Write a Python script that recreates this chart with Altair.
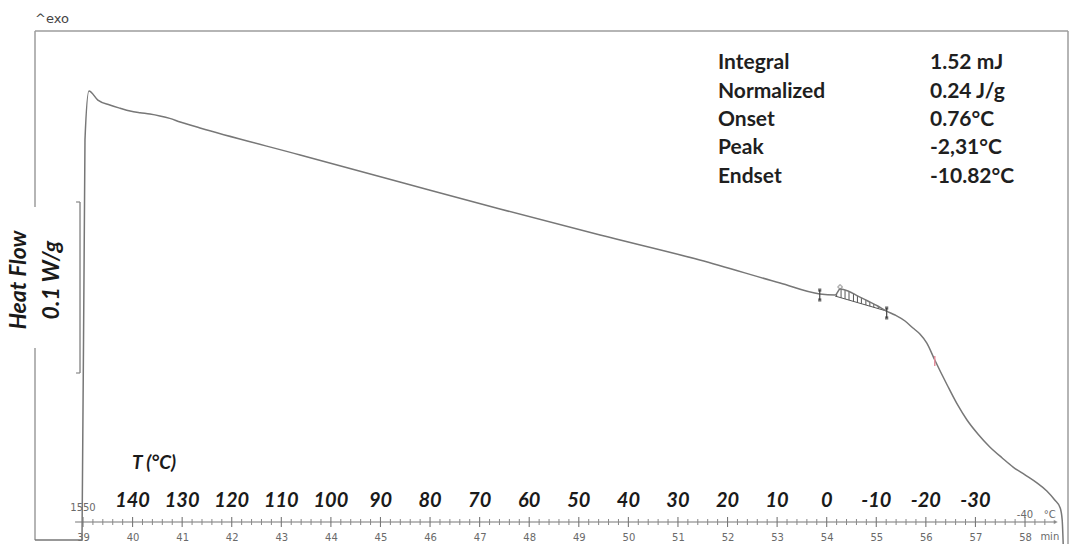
import altair as alt
import numpy as np
import pandas as pd

# ---- DSC heat-flow curve (time in min, heat flow in W/g, relative) ----
curve_time = [38.03, 38.98, 39.04, 39.12, 39.30, 39.54, 39.75, 39.95, 40.15, 40.35, 40.55,
              40.75, 40.96, 41.16, 41.36, 43.38, 45.39, 47.41, 49.43, 51.44, 53.06, 53.86,
              54.17, 54.27, 54.43, 54.63, 54.83, 55.03, 55.20, 55.38, 55.58, 55.74, 55.88,
              56.02, 56.18, 56.43, 56.63, 56.83, 57.05, 57.29, 57.54, 57.76, 58.00, 58.24,
              58.44, 58.60, 58.71, 58.75, 58.77]
curve_flow = [0.0023, 0.0023, 0.2363, 0.2649, 0.2596, 0.2567, 0.2548, 0.2532, 0.2522, 0.2514,
              0.2503, 0.2489, 0.2468, 0.2450, 0.2433, 0.2275, 0.2117, 0.1959, 0.1807, 0.1661,
              0.1526, 0.1462, 0.1456, 0.1491, 0.1480, 0.1450, 0.1421, 0.1392, 0.1363, 0.1339,
              0.1304, 0.1263, 0.1228, 0.1175, 0.1076, 0.0930, 0.0819, 0.0725, 0.0643, 0.0567,
              0.0503, 0.0450, 0.0404, 0.0357, 0.0310, 0.0257, 0.0211, 0.0140, 0.0]

# integration baseline and hatching of the small exothermic peak
base_time = [54.17, 55.20]
base_flow = [0.1450, 0.1363]
hatch_time = [54.20, 54.29, 54.37, 54.45, 54.54, 54.62, 54.70, 54.79, 54.87, 54.95, 55.04, 55.12]
limit_time = [53.86, 55.21]
limit_top = [0.1485, 0.1380]
limit_bottom = [0.1427, 0.1322]
peak_time = [54.27]
peak_flow = [0.1503]
marker_time = [56.18]
marker_top = [0.1099]
marker_bottom = [0.1041]

# scale bar (0.1 W/g)
bar_time = [38.94]
bar_low = [0.10]
bar_high = [0.20]
bar_cap_start = [38.86]

# axis ticks and labels
minutes = list(range(39, 59))
minor_ticks = [round(m + f, 1) for m in range(39, 59) for f in (0.2, 0.4, 0.6, 0.8) if m + f < 58.5]
temps = [140, 130, 120, 110, 100, 90, 80, 70, 60, 50, 40, 30, 20, 10, 0, -10, -20, -30]

table_names = ["Integral", "Normalized", "Onset", "Peak", "Endset"]
table_values = ["1.52 mJ", "0.24 J/g", "0.76°C", "-2,31°C", "-10.82°C"]

# ---- scales ----
W, H = 1033, 513
XS = alt.Scale(domain=[38.032, 58.867], nice=False, zero=False)
YS = alt.Scale(domain=[0, 0.3], nice=False, zero=False)
x_axis = alt.Axis(values=minutes, format="d", domain=False, ticks=False, grid=False,
                  labelFontSize=10, labelColor="#6a6a6a", labelFont="DejaVu Sans",
                  offset=-22, labelPadding=10, title=None)


def xq(field):
    return alt.X(field, type="quantitative", scale=XS, axis=x_axis)


def yq(field):
    return alt.Y(field, type="quantitative", scale=YS, axis=None)


curve_df = pd.DataFrame({"t": curve_time, "v": curve_flow})
base_df = pd.DataFrame({"t": base_time, "v": base_flow})
h = np.array(hatch_time)
hatch_df = pd.DataFrame({"t": h,
                         "top": np.interp(h, curve_time, curve_flow),
                         "bot": np.interp(h, base_time, base_flow)})
limit_df = pd.DataFrame({"t": limit_time, "top": limit_top, "bot": limit_bottom})
peak_df = pd.DataFrame({"t": peak_time, "v": peak_flow})
marker_df = pd.DataFrame({"t": marker_time, "top": marker_top, "bot": marker_bottom})
bar_df = pd.DataFrame({"t": bar_time, "lo": bar_low, "hi": bar_high, "t0": bar_cap_start})
one = pd.DataFrame({"k": [0]})

grey = "#777777"
frame_col = "#9c9c9c"

# frame
frame_top = alt.Chart(one).mark_rule(color=frame_col, strokeWidth=1.5).encode(
    x=alt.value(0), x2=alt.value(W), y=alt.value(0))
frame_left = alt.Chart(one).mark_rule(color=frame_col, strokeWidth=1.5).encode(
    x=alt.value(0), y=alt.value(0), y2=alt.value(509))
frame_right = alt.Chart(one).mark_rule(color=frame_col, strokeWidth=1.5).encode(
    x=alt.value(W), y=alt.value(0), y2=alt.value(H))

# label box on the left
label_box = alt.Chart(one).mark_rect(color="white").encode(
    x=alt.value(-33), x2=alt.value(31), y=alt.value(176), y2=alt.value(317))
hf_text = alt.Chart(pd.DataFrame({"s": ["Heat Flow", "0.1 W/g"], "px": [-16, 17]})).mark_text(
    font="Lato", fontSize=23, fontWeight="bold", fontStyle="italic", angle=270,
    color="#1a1a1a", baseline="middle", align="center").encode(
    x=alt.X("px:Q", scale=None), y=alt.value(249), text="s:N")

exo = alt.Chart(one).mark_text(text="^exo", font="DejaVu Sans", fontSize=13, fontWeight=500,
                               color="#444", align="left", baseline="middle").encode(
    x=alt.value(0), y=alt.value(-12))

# curve
curve = alt.Chart(curve_df).mark_line(color=grey, strokeWidth=1.5, interpolate="monotone").encode(
    x=xq("t"), y=yq("v"), order="t:Q")
baseline = alt.Chart(base_df).mark_line(color="#555", strokeWidth=1).encode(x=xq("t"), y=yq("v"))
hatch = alt.Chart(hatch_df).mark_rule(color="#555", strokeWidth=1).encode(
    x=xq("t"), y=yq("top"), y2="bot:Q")
limits = alt.Chart(limit_df).mark_rule(color="#444", strokeWidth=1.2).encode(
    x=xq("t"), y=yq("top"), y2="bot:Q")
limit_dots_top = alt.Chart(limit_df).mark_point(shape="square", filled=True, size=10, color="#333").encode(
    x=xq("t"), y=yq("top"))
limit_dots_bot = alt.Chart(limit_df).mark_point(shape="square", filled=True, size=10, color="#333").encode(
    x=xq("t"), y=yq("bot"))
peak_mark = alt.Chart(peak_df).mark_point(shape="cross", size=18, color="#777", strokeWidth=1).encode(
    x=xq("t"), y=yq("v"))
pink = alt.Chart(marker_df).mark_rule(color="#e58a9a", strokeWidth=1.4).encode(
    x=xq("t"), y=yq("top"), y2="bot:Q")

# scale bar
bar = alt.Chart(bar_df).mark_rule(color="#888", strokeWidth=1.4).encode(
    x=xq("t"), y=yq("lo"), y2="hi:Q")
bar_cap_lo = alt.Chart(bar_df).mark_rule(color="#888", strokeWidth=1.2).encode(
    x=xq("t0"), x2="t:Q", y=yq("lo"))
bar_cap_hi = alt.Chart(bar_df).mark_rule(color="#888", strokeWidth=1.2).encode(
    x=xq("t0"), x2="t:Q", y=yq("hi"))

# bottom time / temperature axis
axis_df = pd.DataFrame({"a": [38.84], "b": [58.62]})
axis_line = alt.Chart(axis_df).mark_rule(color="#777", strokeWidth=1.2).encode(
    x=xq("a"), x2="b:Q", y=alt.value(491))
axis_arrow = alt.Chart(axis_df).mark_point(shape="triangle-right", filled=True, size=22, color="#777").encode(
    x=xq("b"), y=alt.value(491))
major = alt.Chart(pd.DataFrame({"t": minutes})).mark_rule(color="#777", strokeWidth=1.1).encode(
    x=xq("t"), y=alt.value(486), y2=alt.value(496))
minor = alt.Chart(pd.DataFrame({"t": minor_ticks})).mark_rule(color="#888", strokeWidth=1).encode(
    x=xq("t"), y=alt.value(488), y2=alt.value(494))
min_text = alt.Chart(pd.DataFrame({"t": [58.5], "s": ["min"]})).mark_text(
    font="DejaVu Sans", fontSize=10, color="#6a6a6a", baseline="top").encode(
    x=xq("t"), y=alt.value(501), text="s:N")

temp_df = pd.DataFrame({"T": temps, "label": [str(v) for v in temps]})
temp_text = alt.Chart(temp_df).transform_calculate(t="54 - datum.T / 10").mark_text(
    font="Lato", fontSize=20, fontWeight="bold", fontStyle="italic", color="#1a1a1a",
    baseline="middle").encode(x=xq("t"), y=alt.value(470), text="label:N")
small_df = pd.DataFrame({"t": [39.0, 58.0, 58.5], "s": ["1550", "-40", "°C"], "py": [477, 484, 484]})
small_text = alt.Chart(small_df).mark_text(font="DejaVu Sans", fontSize=10, color="#6a6a6a",
                                           baseline="middle").encode(
    x=xq("t"), y=alt.Y("py:Q", scale=None), text="s:N")
t_title = alt.Chart(one).mark_text(text="T (°C)", font="Lato", fontSize=19, fontWeight="bold",
                                   fontStyle="italic", color="#1a1a1a", baseline="middle").encode(
    x=alt.value(119), y=alt.value(432))

# results table
tab_df = pd.DataFrame({"i": list(range(len(table_names))), "name": table_names, "val": table_values})
tab_names = alt.Chart(tab_df).transform_calculate(py="32.3 + datum.i * 28.35").mark_text(
    font="Lato", fontSize=21, fontWeight="bold", color="#1f1f1f", align="left", baseline="middle").encode(
    x=alt.value(683), y=alt.Y("py:Q", scale=None), text="name:N")
tab_vals = alt.Chart(tab_df).transform_calculate(py="32.3 + datum.i * 28.35").mark_text(
    font="Lato", fontSize=21, fontWeight="bold", color="#1f1f1f", align="left", baseline="middle").encode(
    x=alt.value(895), y=alt.Y("py:Q", scale=None), text="val:N")

chart = alt.layer(
    frame_top, frame_left, frame_right, label_box, hf_text, exo,
    bar, bar_cap_lo, bar_cap_hi,
    axis_line, axis_arrow, major, minor, min_text, temp_text, small_text, t_title,
    hatch, baseline, curve, limits, limit_dots_top, limit_dots_bot, peak_mark, pink,
    tab_names, tab_vals,
).properties(
    width=W, height=H,
    autosize=alt.AutoSizeParams(type="none"),
    padding={"left": 35, "top": 31, "right": 2, "bottom": 0},
    background="white",
).configure_view(stroke=None)

chart.save("out.html", embed_options={"renderer": "svg", "actions": False})
